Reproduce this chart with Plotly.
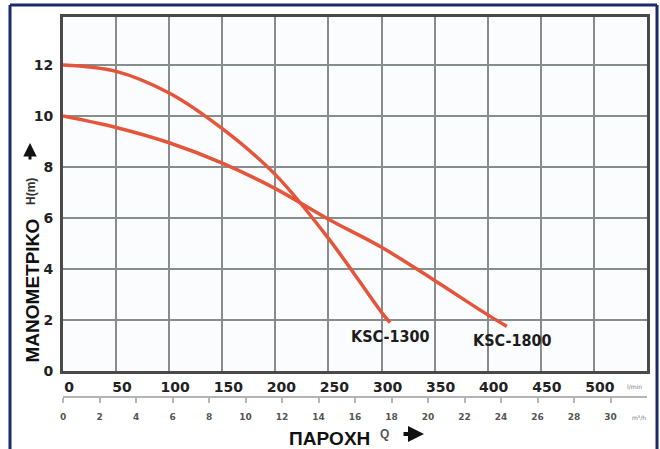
import plotly.graph_objects as go

# ---- data ----
q_1300 = [0, 50, 100, 150, 200, 250, 300, 308]
h_1300 = [12.0, 11.75, 10.9, 9.5, 7.7, 5.2, 2.3, 1.9]

q_1800 = [0, 50, 100, 150, 200, 250, 300, 350, 400, 418]
h_1800 = [10.0, 9.55, 8.95, 8.15, 7.15, 5.95, 4.85, 3.55, 2.2, 1.75]

lmin_ticks = [0, 50, 100, 150, 200, 250, 300, 350, 400, 450, 500]
m3h_ticks = [0, 2, 4, 6, 8, 10, 12, 14, 16, 18, 20, 22, 24, 26, 28, 30]
h_ticks = [0, 2, 4, 6, 8, 10, 12]

series_names = ["KSC-1300", "KSC-1800"]

W, H = 660, 449
ML, MR, MT, MB = 63, 13, 17, 52
PW, PH = W - ML - MR, H - MT - MB


def px(xp):
    return (xp - ML) / PW


def py(yp):
    return (H - MB - yp) / PH


RED = "#e4553b"
BOLD = "DejaVu Sans"

fig = go.Figure()
fig.add_trace(go.Scatter(x=q_1300, y=h_1300, mode="lines", line=dict(color=RED, width=3.5, shape="spline"),
                         showlegend=False, hoverinfo="skip"))
fig.add_trace(go.Scatter(x=q_1800, y=h_1800, mode="lines", line=dict(color=RED, width=3.5, shape="spline"),
                         showlegend=False, hoverinfo="skip"))
# carrier for the secondary (m3/h) axis
fig.add_trace(go.Scatter(x=m3h_ticks, y=[None] * len(m3h_ticks), xaxis="x2", yaxis="y", mode="markers",
                         showlegend=False, hoverinfo="skip"))

y_dom0 = (H - MB - 371) / PH

fig.update_layout(
    width=W, height=H,
    margin=dict(l=ML, r=MR, t=MT, b=MB, autoexpand=False),
    paper_bgcolor="white",
    plot_bgcolor="#fbfcfd",
    xaxis=dict(range=[0, 550], tickvals=lmin_ticks, showgrid=True, gridcolor="#878d8d", gridwidth=2,
               zeroline=False, showline=True, linecolor="#4a4a4a", linewidth=3, mirror=True,
               ticks="", ticklabelshift=6, ticklabelstandoff=1, automargin=False,
               tickfont=dict(family=BOLD, size=14, color="#222", weight="bold"), anchor="y"),
    xaxis2=dict(range=[0, 32], tickvals=m3h_ticks, overlaying="x", anchor="free", position=0,
                showgrid=False, zeroline=False, showline=True, linecolor="#b5b5b5", linewidth=1.5,
                ticks="outside", ticklen=5, tickcolor="#b5b5b5", tickwidth=1.5, automargin=False,
                ticklabelstandoff=6,
                tickfont=dict(family=BOLD, size=9, color="#555", weight="bold")),
    yaxis=dict(range=[0, 13.88], domain=[y_dom0, 1], tickvals=h_ticks, showgrid=True, gridcolor="#878d8d",
               gridwidth=2, zeroline=False, showline=True, linecolor="#4a4a4a", linewidth=3, mirror=True,
               ticks="", ticklabelstandoff=4, automargin=False,
               tickfont=dict(family=BOLD, size=14, color="#222", weight="bold")),
)


def note(x, y, text, size, color, family="Liberation Sans", angle=0):
    fig.add_annotation(x=px(x), y=py(y), xref="paper", yref="paper", text=text, showarrow=False,
                       xanchor="center", yanchor="middle", textangle=angle,
                       font=dict(family=family, size=size, color=color))


# series labels
fig.add_annotation(x=308, y=1.37, xref="x", yref="y", text="<b>" + series_names[0] + "</b>", showarrow=False,
                   xanchor="center", yanchor="middle",
                   font=dict(family="DejaVu Sans Condensed, Liberation Sans Narrow, DejaVu Sans", size=16,
                             color="#1c1c1c"))
fig.add_annotation(x=423, y=1.18, xref="x", yref="y", text="<b>" + series_names[1] + "</b>", showarrow=False,
                   xanchor="center", yanchor="middle",
                   font=dict(family="DejaVu Sans Condensed, Liberation Sans Narrow, DejaVu Sans", size=16,
                             color="#1c1c1c"))

# unit labels
note(634, 386, "l/min", 6, "#777", "DejaVu Sans")
note(639, 417, "m³/h", 6, "#777", "DejaVu Sans")

# y title block
fig.add_shape(type="rect", xref="paper", yref="paper", x0=px(20), x1=px(43), y0=py(371), y1=py(207),
              fillcolor="white", line=dict(width=0), layer="above")
note(31.5, 291, "<b>ΜΑΝΟΜΕΤΡΙΚΟ</b>", 19, "#111", angle=-90)
note(31, 192, "<b>H(m)</b>", 12, "#333", angle=-90)
fig.add_annotation(x=px(30), y=py(143), xref="paper", yref="paper", text="", showarrow=True,
                   ax=0, ay=18, arrowhead=2, arrowsize=0.9, arrowwidth=3, arrowcolor="#111")

# x title block
fig.add_shape(type="rect", xref="paper", yref="paper", x0=px(265), x1=px(372), y0=py(452), y1=py(427),
              fillcolor="white", line=dict(width=0), layer="above")
note(329, 438, "<b>ΠΑΡΟΧΗ</b>", 19, "#111")
note(384, 434, "<b>Q</b>", 12, "#555")
fig.add_annotation(x=px(424), y=py(434), xref="paper", yref="paper", text="", showarrow=True,
                   ax=-22, ay=0, arrowhead=2, arrowsize=0.8, arrowwidth=4, arrowcolor="#111")

# navy frame
NAVY = "#1b2a6b"
fig.add_shape(type="line", xref="paper", yref="paper", x0=px(10), x1=px(10), y0=py(460), y1=py(5),
              line=dict(color=NAVY, width=3))
fig.add_shape(type="line", xref="paper", yref="paper", x0=px(657), x1=px(657), y0=py(460), y1=py(5),
              line=dict(color=NAVY, width=3))
fig.add_shape(type="line", xref="paper", yref="paper", x0=px(10), x1=px(657), y0=py(5), y1=py(5),
              line=dict(color=NAVY, width=3))

fig.write_html("out.html", config={"displayModeBar": False},
               post_script="document.body.style.margin='0';document.body.style.overflow='hidden';")
